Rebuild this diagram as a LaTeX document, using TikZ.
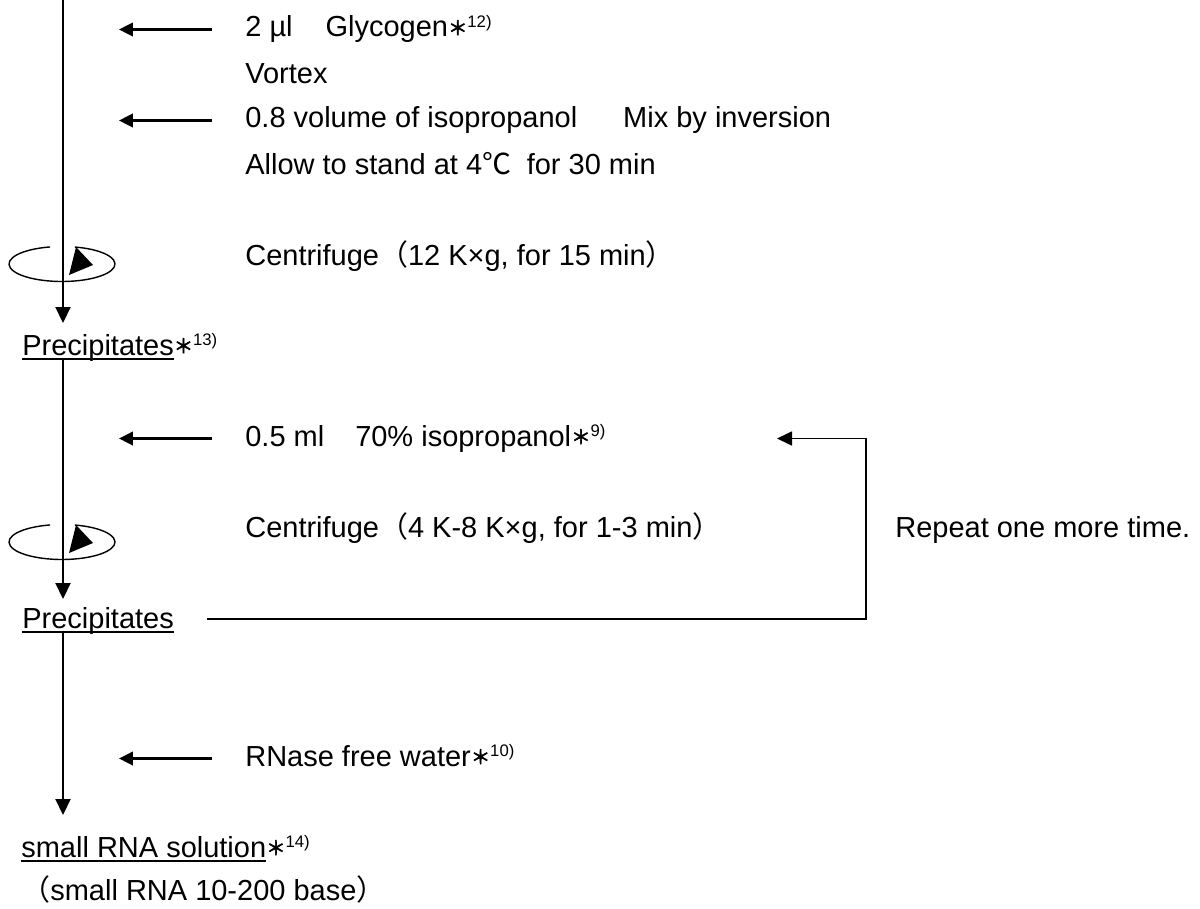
\documentclass[tikz,border=0pt]{standalone}
\usepackage{fontspec}
\setmainfont{Liberation Sans}
\newfontfamily\cjk{Noto Sans CJK JP}
\newfontfamily\cjkstar[FakeBold=3]{Noto Sans CJK JP}
\usetikzlibrary{arrows.meta,calc}

% footnote mark, underline and full-width glyphs
\newcommand{\fn}[1]{{\cjkstar\fontsize{11}{11}\selectfont\raisebox{0.04cm}{＊}}\raisebox{0.2cm}{\fontsize{9.5}{10}\selectfont #1)}}
\newcommand{\ulin}[1]{\setbox0\hbox{#1}\rlap{\rule[-0.09cm]{\wd0}{0.04cm}}\box0}
\newcommand{\jp}[1]{{\cjk #1}}

\begin{document}
\begin{tikzpicture}[x=0.02cm,y=0.02cm,
    steptext/.style={anchor=base west,inner sep=0pt,font=\fontsize{16.5}{20}\selectfont},
    flow/.style={line width=1.2pt,-{Triangle[length=0.32cm,width=0.3cm]}},
    addarrow/.style={line width=1.5pt,-{Triangle[length=0.28cm,width=0.27cm]}},
    backline/.style={line width=1pt,-{Triangle[length=0.3cm,width=0.28cm]}},
    spin/.style={line width=0.8pt}
]

% Picture size
\useasboundingbox (0,0) rectangle (1200,-909);

% Column of the main flow
\def\colx{63}
\coordinate (top) at (\colx,0);

% Steps
\node[steptext] (glyc) at (245,-37) {2 µl\hspace{0.66cm}Glycogen\fn{12}};
\node[steptext] (vortex) at (245,-84) {Vortex};
\node[steptext] (isop) at (245,-128) {0.8 volume of isopropanol\hspace{0.92cm}Mix by inversion};
\node[steptext] (stand) at (245,-174) {Allow to stand at 4\jp{℃}\hspace{0.15cm} for 30 min};
\node[steptext] (cen1) at (245,-265) {Centrifuge\jp{（}12 K×g, for 15 min\jp{）}};
\node[steptext] (p1) at (22,-355) {\ulin{Precipitates}\fn{13}};
\node[steptext] (wash) at (245,-446) {0.5 ml\hspace{0.62cm}70\% isopropanol\fn{9}};
\node[steptext] (cen2) at (245,-537) {Centrifuge\jp{（}4 K-8 K×g, for 1-3 min\jp{）}};
\node[steptext] (rep) at (895,-537) {Repeat one more time.};
\node[steptext] (p2) at (22,-628) {\ulin{Precipitates}};
\node[steptext] (water) at (245,-766) {RNase free water\fn{10}};
\node[steptext] (sol) at (21,-857) {\ulin{small RNA solution}\fn{14}};
\node[steptext] (size) at (21,-900) {\jp{（}small RNA 10-200 base\jp{）}};

% Main flow
\draw[flow] (top) -- ($(p1.base -| top)+(0,32)$);
\draw[flow] ($(p1.base -| top)+(0,-4)$) -- ($(p2.base -| top)+(0,29)$);
\draw[flow] ($(p2.base -| top)+(0,-5)$) -- ($(sol.base -| top)+(0,42)$);

% Additions
\foreach \n in {glyc,isop,wash,water} {
    \draw[addarrow] ($(\n.base west)+(-33,7.5)$) -- ($(\n.base -| top)+(56,7.5)$);
}

% Centrifuge marks
\foreach \y in {264,542} {
    \draw[spin] (\colx-1,-\y) ++(103:1.06cm and 0.35cm)
        arc[start angle=103,end angle=436,x radius=1.06cm,y radius=0.35cm];
    \fill (\colx-1,-\y) ++(14,17) -- ++(17,-18) -- ++(-24,-10) -- cycle;
}

% Repeat loop
\coordinate (back) at ($(wash.base -| rep.base west)+(-118,7.5)$);
\draw[backline] ($(p2.base east)+(33,9)$) -| ($(back)+(89,0)$) -- (back);

\end{tikzpicture}
\end{document}
